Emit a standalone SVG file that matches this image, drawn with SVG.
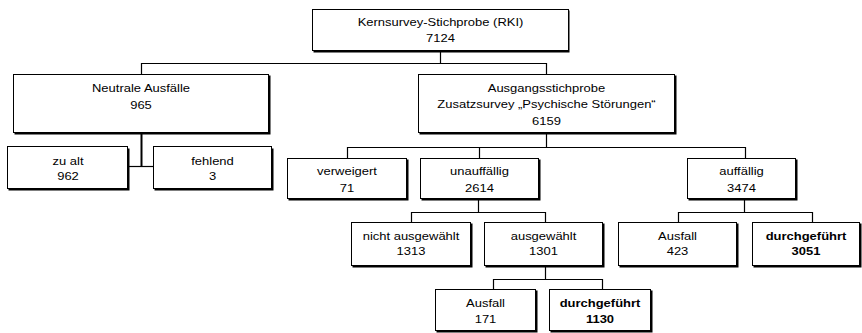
<svg xmlns="http://www.w3.org/2000/svg" width="862" height="333" viewBox="0 0 862 333">
<style>
.sh{fill:#000}
.bx{fill:#fff;stroke:#000;stroke-width:1}
.t{font-family:"Liberation Sans",Arial,sans-serif;font-size:11px;text-anchor:middle;fill:#000}
.b{font-weight:bold}
.c{fill:none;stroke:#000;stroke-width:1.2}
</style>
<rect width="862" height="333" fill="#fff"/>
<g id="connectors">
<path class="c" d="M440.5 51V63.5M141.5 63.5H546.5M141.5 63V74M546.5 63V74"/>
<path class="c" style="stroke-width:2" d="M141.5 133V166.5"/>
<path class="c" d="M128 166.5H153"/>
<path class="c" d="M546.5 133V147.5M347.5 147.5H745.5M347.5 147V158M479.5 147V158M745.5 147V158"/>
<path class="c" d="M478.5 199V212.5M411.5 212.5H545.5M411.5 212V222M545.5 212V222"/>
<path class="c" d="M545.5 266V279.5M493.5 279.5H602.5M493.5 279V289M602.5 279V289"/>
<path class="c" d="M744.5 199V212.5M678.5 212.5H812.5M678.5 212V222M812.5 212V222"/>
</g>
<g id="root">
<rect class="sh" x="313.5" y="10.5" width="256" height="42"/>
<rect class="bx" x="312.5" y="9.5" width="256" height="41"/>
<text class="t" transform="translate(440.5,26) scale(1.18,1)">Kernsurvey-Stichprobe (RKI)</text>
<text class="t" transform="translate(440.5,42) scale(1.18,1)">7124</text>
</g>
<g id="neutral">
<rect class="sh" x="14.5" y="75.5" width="256" height="59"/>
<rect class="bx" x="13.5" y="74.5" width="255" height="58"/>
<text class="t" transform="translate(141,92) scale(1.18,1)">Neutrale Ausfälle</text>
<text class="t" transform="translate(141,109) scale(1.18,1)">965</text>
</g>
<g id="ausgang">
<rect class="sh" x="419.5" y="75.5" width="257" height="59"/>
<rect class="bx" x="418.5" y="74.5" width="256" height="58"/>
<text class="t" transform="translate(546.5,92) scale(1.18,1)">Ausgangsstichprobe</text>
<text class="t" transform="translate(546.5,108) scale(1.18,1)">Zusatzsurvey „Psychische Störungen“</text>
<text class="t" transform="translate(546.5,124.5) scale(1.18,1)">6159</text>
</g>
<g id="zualt">
<rect class="sh" x="8.5" y="148.5" width="121" height="42"/>
<rect class="bx" x="7.5" y="146.5" width="120" height="42"/>
<text class="t" transform="translate(68,165) scale(1.18,1)">zu alt</text>
<text class="t" transform="translate(68,180) scale(1.18,1)">962</text>
</g>
<g id="fehlend">
<rect class="sh" x="154.5" y="148.5" width="119" height="42"/>
<rect class="bx" x="153.5" y="146.5" width="118" height="42"/>
<text class="t" transform="translate(212.5,165) scale(1.18,1)">fehlend</text>
<text class="t" transform="translate(212.5,180) scale(1.18,1)">3</text>
</g>
<g id="verweigert">
<rect class="sh" x="288.5" y="159.5" width="120" height="41"/>
<rect class="bx" x="287.5" y="158.5" width="119" height="40"/>
<text class="t" transform="translate(347,175) scale(1.18,1)">verweigert</text>
<text class="t" transform="translate(347,191.5) scale(1.18,1)">71</text>
</g>
<g id="unauffaellig">
<rect class="sh" x="421.5" y="159.5" width="119" height="41"/>
<rect class="bx" x="420.5" y="158.5" width="118" height="40"/>
<text class="t" transform="translate(479.5,175) scale(1.18,1)">unauffällig</text>
<text class="t" transform="translate(479.5,191.5) scale(1.18,1)">2614</text>
</g>
<g id="auffaellig">
<rect class="sh" x="688.5" y="159.5" width="109" height="41"/>
<rect class="bx" x="687.5" y="158.5" width="108" height="40"/>
<text class="t" transform="translate(741.5,175) scale(1.18,1)">auffällig</text>
<text class="t" transform="translate(741.5,191.5) scale(1.18,1)">3474</text>
</g>
<g id="nichtausgewaehlt">
<rect class="sh" x="352.5" y="223.5" width="120" height="44"/>
<rect class="bx" x="351.5" y="222.5" width="119" height="43"/>
<text class="t" transform="translate(411,240) scale(1.18,1)">nicht ausgewählt</text>
<text class="t" transform="translate(411,255) scale(1.18,1)">1313</text>
</g>
<g id="ausgewaehlt">
<rect class="sh" x="485.5" y="223.5" width="119" height="44"/>
<rect class="bx" x="484.5" y="222.5" width="118" height="43"/>
<text class="t" transform="translate(543.5,240) scale(1.18,1)">ausgewählt</text>
<text class="t" transform="translate(543.5,255) scale(1.18,1)">1301</text>
</g>
<g id="ausfall1">
<rect class="sh" x="436.5" y="290.5" width="101" height="42"/>
<rect class="bx" x="435.5" y="289.5" width="100" height="41"/>
<text class="t" transform="translate(485.5,307) scale(1.18,1)">Ausfall</text>
<text class="t" transform="translate(485.5,322.5) scale(1.18,1)">171</text>
</g>
<g id="durchgefuehrt1">
<rect class="sh" x="550.5" y="290.5" width="102" height="42"/>
<rect class="bx" x="549.5" y="289.5" width="101" height="41"/>
<text class="t b" transform="translate(600,307) scale(1.18,1)">durchgeführt</text>
<text class="t b" transform="translate(600,322.5) scale(1.18,1)">1130</text>
</g>
<g id="ausfall2">
<rect class="sh" x="619.5" y="223.5" width="119" height="44"/>
<rect class="bx" x="618.5" y="222.5" width="118" height="43"/>
<text class="t" transform="translate(677.5,240) scale(1.18,1)">Ausfall</text>
<text class="t" transform="translate(677.5,255) scale(1.18,1)">423</text>
</g>
<g id="durchgefuehrt2">
<rect class="sh" x="753.5" y="223.5" width="108" height="44"/>
<rect class="bx" x="752.5" y="222.5" width="107" height="43"/>
<text class="t b" transform="translate(806,240) scale(1.18,1)">durchgeführt</text>
<text class="t b" transform="translate(806,255) scale(1.18,1)">3051</text>
</g>
</svg>
